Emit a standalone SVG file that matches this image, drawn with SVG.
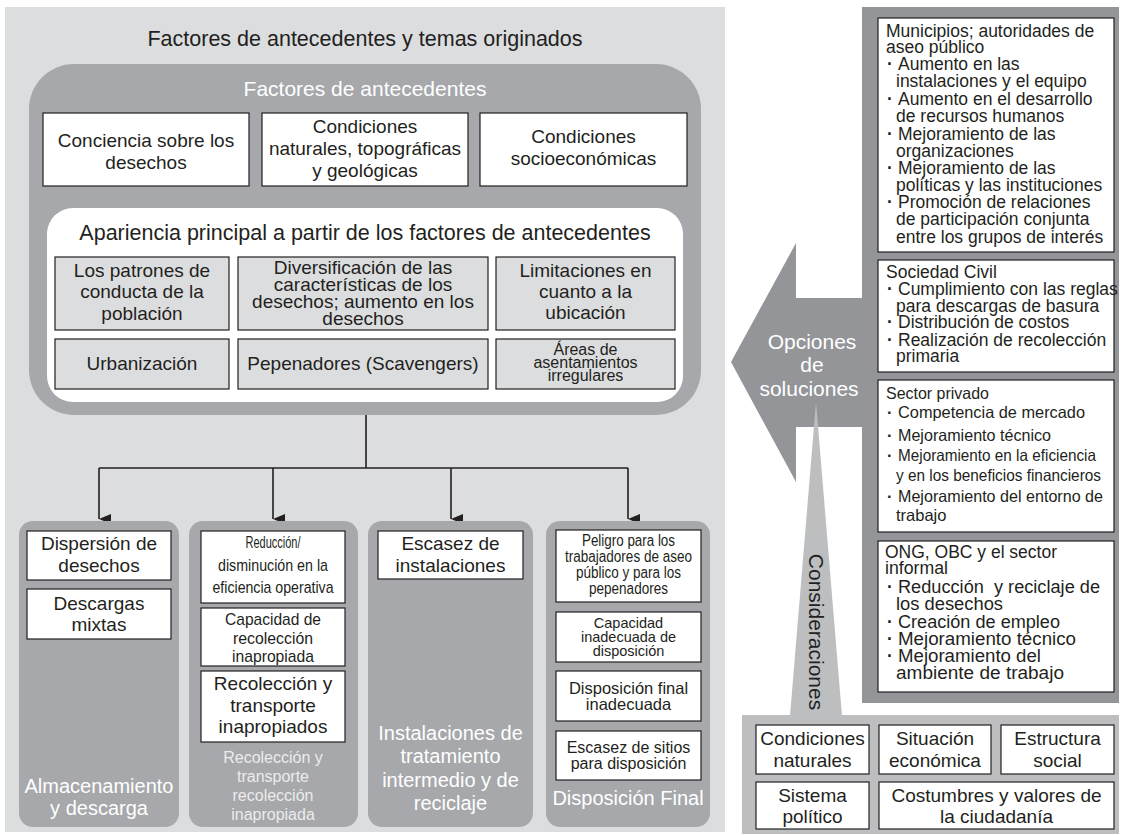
<svg xmlns="http://www.w3.org/2000/svg" width="1123" height="835" viewBox="0 0 1123 835">
  <style>
    text { font-family: "Liberation Sans", Arial, sans-serif; fill: #231f20; }
    .c { text-anchor: middle; }
    .w { fill: #ffffff; }
    .lw { fill: #ececec; }
    .f19 { font-size: 19px; }
    .f20 { font-size: 20px; }
    .f21 { font-size: 21px; }
    .box { fill: #ffffff; stroke: #231f20; stroke-width: 1.2; }
    .gbox { fill: #dcdddf; stroke: #231f20; stroke-width: 1.2; }
    .col { fill: #a6a8ab; }
    .bul { font-weight: bold; }
    .conn { stroke: #231f20; stroke-width: 1.6; fill: none; }
  </style>
  <defs>
    <marker id="arr" viewBox="0 0 10 12" refX="5" refY="12" markerWidth="10" markerHeight="12" markerUnits="userSpaceOnUse" orient="auto-start-reverse">
      <path d="M0,0 L10,0 L5,12 Z" fill="#231f20"/>
    </marker>
  </defs>

  <rect width="1123" height="835" fill="#ffffff"/>

  <!-- left panel: background factors and resulting issues -->
  <g id="panel-left">
    <rect x="5" y="7" width="720" height="825" fill="#dcdddf"/>
    <text class="c" x="365" y="46" font-size="21.5">Factores de antecedentes y temas originados</text>
  </g>

  <g id="factores">
    <rect x="29" y="64" width="672" height="351" rx="45" ry="45" fill="#a6a8ab"/>
    <text class="c w f21" x="365" y="96">Factores de antecedentes</text>
  </g>

  <g id="conciencia">
    <rect class="box" x="43" y="113" width="206" height="73"/>
    <text class="c f19" x="146" y="147">Conciencia sobre los</text>
    <text class="c f19" x="146" y="169">desechos</text>
  </g>
  <g id="condiciones-naturales">
    <rect class="box" x="262" y="113" width="206" height="73"/>
    <text class="c f19" x="365" y="133">Condiciones</text>
    <text class="c f19" x="365" y="155">naturales, topográficas</text>
    <text class="c f19" x="365" y="177">y geológicas</text>
  </g>
  <g id="condiciones-socio">
    <rect class="box" x="480" y="113" width="207" height="73"/>
    <text class="c f19" x="583.5" y="143">Condiciones</text>
    <text class="c f19" x="583.5" y="165">socioeconómicas</text>
  </g>

  <g id="apariencia">
    <rect x="47" y="208" width="636" height="194" rx="26" ry="26" fill="#ffffff"/>
    <text class="c" x="365" y="240" font-size="21.5">Apariencia principal a partir de los factores de antecedentes</text>
  </g>

  <g id="patrones">
    <rect class="gbox" x="55" y="257" width="174" height="73"/>
    <text class="c f19" x="142" y="277">Los patrones de</text>
    <text class="c f19" x="142" y="298">conducta de la</text>
    <text class="c f19" x="142" y="320">población</text>
  </g>
  <g id="diversificacion">
    <rect class="gbox" x="238" y="257" width="250" height="73"/>
    <text class="c f19" x="363" y="274">Diversificación de las</text>
    <text class="c f19" x="363" y="291">características de los</text>
    <text class="c f19" x="363" y="308">desechos; aumento en los</text>
    <text class="c f19" x="363" y="325">desechos</text>
  </g>
  <g id="limitaciones">
    <rect class="gbox" x="496" y="257" width="179" height="73"/>
    <text class="c f19" x="585.5" y="277">Limitaciones en</text>
    <text class="c f19" x="585.5" y="298">cuanto a la</text>
    <text class="c f19" x="585.5" y="319">ubicación</text>
  </g>
  <g id="urbanizacion">
    <rect class="gbox" x="55" y="339" width="174" height="50"/>
    <text class="c f19" x="142" y="370">Urbanización</text>
  </g>
  <g id="pepenadores">
    <rect class="gbox" x="238" y="339" width="250" height="50"/>
    <text class="c f19" x="363" y="370">Pepenadores (Scavengers)</text>
  </g>
  <g id="asentamientos">
    <rect class="gbox" x="496" y="339" width="179" height="50"/>
    <text class="c" x="585.5" y="355" font-size="16">Áreas de</text>
    <text class="c" x="585.5" y="368" font-size="16">asentamientos</text>
    <text class="c" x="585.5" y="381" font-size="16">irregulares</text>
  </g>

  <!-- connectors -->
  <g id="connectors">
    <path class="conn" d="M366,415 V468 M99,468 H628"/>
    <path class="conn" d="M99,468 V519" marker-end="url(#arr)"/>
    <path class="conn" d="M273,468 V519" marker-end="url(#arr)"/>
    <path class="conn" d="M451,468 V519" marker-end="url(#arr)"/>
    <path class="conn" d="M628,468 V519" marker-end="url(#arr)"/>
  </g>

  <!-- column 1 -->
  <g id="almacenamiento">
    <rect class="col" x="19" y="521" width="160" height="306" rx="14" ry="14"/>
    <text class="c w f20" x="99" y="793">Almacenamiento</text>
    <text class="c w f20" x="99" y="815">y descarga</text>
  </g>
  <g id="dispersion">
    <rect class="box" x="27" y="531" width="144" height="49"/>
    <text class="c f19" x="99" y="550">Dispersión de</text>
    <text class="c f19" x="99" y="572">desechos</text>
  </g>
  <g id="descargas">
    <rect class="box" x="27" y="589" width="144" height="50"/>
    <text class="c f19" x="99" y="610">Descargas</text>
    <text class="c f19" x="99" y="631">mixtas</text>
  </g>

  <!-- column 2 -->
  <g id="recoleccion">
    <rect class="col" x="189" y="521" width="169" height="306" rx="14" ry="14"/>
    <text class="c lw" x="273" y="763" font-size="16">Recolección y</text>
    <text class="c lw" x="273" y="782" font-size="16">transporte</text>
    <text class="c lw" x="273" y="801" font-size="16">recolección</text>
    <text class="c lw" x="273" y="820" font-size="16">inapropiada</text>
  </g>
  <g id="reduccion">
    <rect class="box" x="201" y="531" width="144" height="72"/>
    <text class="c" x="273" y="548" font-size="17" textLength="55" lengthAdjust="spacingAndGlyphs">Reducción/</text>
    <text class="c" x="273" y="571" font-size="17" textLength="110" lengthAdjust="spacingAndGlyphs">disminución en la</text>
    <text class="c" x="273" y="593" font-size="17" textLength="121" lengthAdjust="spacingAndGlyphs">eficiencia operativa</text>
  </g>
  <g id="capacidad-recoleccion">
    <rect class="box" x="201" y="608" width="144" height="58"/>
    <text class="c" x="273" y="625" font-size="17" textLength="96" lengthAdjust="spacingAndGlyphs">Capacidad de</text>
    <text class="c" x="273" y="644" font-size="17" textLength="80" lengthAdjust="spacingAndGlyphs">recolección</text>
    <text class="c" x="273" y="662" font-size="17" textLength="82" lengthAdjust="spacingAndGlyphs">inapropiada</text>
  </g>
  <g id="transporte">
    <rect class="box" x="201" y="671" width="144" height="71"/>
    <text class="c f19" x="273" y="690">Recolección y</text>
    <text class="c f19" x="273" y="712">transporte</text>
    <text class="c f19" x="273" y="733">inapropiados</text>
  </g>

  <!-- column 3 -->
  <g id="instalaciones">
    <rect class="col" x="368" y="521" width="165" height="306" rx="14" ry="14"/>
    <text class="c w f20" x="450.5" y="740">Instalaciones de</text>
    <text class="c w f20" x="450.5" y="763">tratamiento</text>
    <text class="c w f20" x="450.5" y="787">intermedio y de</text>
    <text class="c w f20" x="450.5" y="810">reciclaje</text>
  </g>
  <g id="escasez-instalaciones">
    <rect class="box" x="378" y="531" width="145" height="48"/>
    <text class="c f19" x="450.5" y="550">Escasez de</text>
    <text class="c f19" x="450.5" y="572">instalaciones</text>
  </g>

  <!-- column 4 -->
  <g id="disposicion">
    <rect class="col" x="546" y="521" width="164" height="306" rx="14" ry="14"/>
    <text class="c w f20" x="628" y="805">Disposición Final</text>
  </g>
  <g id="peligro">
    <rect class="box" x="556" y="530" width="145" height="72"/>
    <text class="c" x="628.5" y="546" font-size="16" textLength="93" lengthAdjust="spacingAndGlyphs">Peligro para los</text>
    <text class="c" x="628.5" y="562" font-size="16" textLength="127" lengthAdjust="spacingAndGlyphs">trabajadores de aseo</text>
    <text class="c" x="628.5" y="578" font-size="16" textLength="105" lengthAdjust="spacingAndGlyphs">público y para los</text>
    <text class="c" x="628.5" y="594" font-size="16" textLength="79" lengthAdjust="spacingAndGlyphs">pepenadores</text>
  </g>
  <g id="capacidad-disposicion">
    <rect class="box" x="556" y="612" width="145" height="50"/>
    <text class="c" x="628.5" y="628" font-size="14.5">Capacidad</text>
    <text class="c" x="628.5" y="642" font-size="14.5">inadecuada de</text>
    <text class="c" x="628.5" y="656" font-size="14.5">disposición</text>
  </g>
  <g id="disposicion-inadecuada">
    <rect class="box" x="556" y="671" width="145" height="50"/>
    <text class="c" x="628.5" y="694" font-size="16.5">Disposición final</text>
    <text class="c" x="628.5" y="710" font-size="16.5">inadecuada</text>
  </g>
  <g id="escasez-sitios">
    <rect class="box" x="556" y="731" width="145" height="49"/>
    <text class="c" x="628.5" y="753" font-size="16">Escasez de sitios</text>
    <text class="c" x="628.5" y="769" font-size="16">para disposición</text>
  </g>

  <!-- right side: solution options arrow and actors -->
  <g id="opciones">
    <path d="M862,7 H1119 V703 H862 V427 H796 V482 L731,362 L796,243 V298 H862 Z" fill="#939598"/>
    <text class="c w f21" x="812" y="349">Opciones</text>
    <text class="c w f21" x="812" y="372">de</text>
    <text class="c w f21" x="809" y="396">soluciones</text>
  </g>

  <g id="municipios" font-size="17.5">
    <rect class="box" x="878" y="18" width="236" height="234"/>
    <text x="886" y="37">Municipios; autoridades de</text>
    <text x="886" y="53">aseo público</text>
    <text y="70"><tspan x="887" class="bul">·</tspan><tspan x="898">Aumento en las</tspan></text>
    <text x="896" y="87">instalaciones y el equipo</text>
    <text y="105"><tspan x="887" class="bul">·</tspan><tspan x="898">Aumento en el desarrollo</tspan></text>
    <text x="896" y="122">de recursos humanos</text>
    <text y="140"><tspan x="887" class="bul">·</tspan><tspan x="898">Mejoramiento de las</tspan></text>
    <text x="896" y="157">organizaciones</text>
    <text y="174"><tspan x="887" class="bul">·</tspan><tspan x="898">Mejoramiento de las</tspan></text>
    <text x="896" y="191">políticas y las instituciones</text>
    <text y="208"><tspan x="887" class="bul">·</tspan><tspan x="898">Promoción de relaciones</tspan></text>
    <text x="896" y="225">de participación conjunta</text>
    <text x="896" y="243">entre los grupos de interés</text>
  </g>

  <g id="sociedad-civil" font-size="17.5">
    <rect class="box" x="878" y="260" width="236" height="112"/>
    <text x="886" y="278">Sociedad Civil</text>
    <text y="295"><tspan x="887" class="bul">·</tspan><tspan x="898">Cumplimiento con las reglas</tspan></text>
    <text x="896" y="312">para descargas de basura</text>
    <text y="328"><tspan x="887" class="bul">·</tspan><tspan x="898">Distribución de costos</tspan></text>
    <text y="346"><tspan x="887" class="bul">·</tspan><tspan x="898">Realización de recolección</tspan></text>
    <text x="896" y="362">primaria</text>
  </g>

  <g id="sector-privado" font-size="16.5">
    <rect class="box" x="878" y="380" width="236" height="152"/>
    <text x="886" y="399" textLength="103" lengthAdjust="spacingAndGlyphs">Sector privado</text>
    <text y="418"><tspan x="887" class="bul">·</tspan><tspan x="898" textLength="187" lengthAdjust="spacingAndGlyphs">Competencia de mercado</tspan></text>
    <text y="441"><tspan x="887" class="bul">·</tspan><tspan x="898" textLength="153" lengthAdjust="spacingAndGlyphs">Mejoramiento técnico</tspan></text>
    <text y="461"><tspan x="887" class="bul">·</tspan><tspan x="898" textLength="198" lengthAdjust="spacingAndGlyphs">Mejoramiento en la eficiencia</tspan></text>
    <text x="896" y="481" textLength="205" lengthAdjust="spacingAndGlyphs">y en los beneficios financieros</text>
    <text y="502"><tspan x="887" class="bul">·</tspan><tspan x="898" textLength="205" lengthAdjust="spacingAndGlyphs">Mejoramiento del entorno de</tspan></text>
    <text x="896" y="521">trabajo</text>
  </g>

  <g id="ong" font-size="17.5">
    <rect class="box" x="878" y="541" width="236" height="151"/>
    <text x="885" y="558" textLength="172" lengthAdjust="spacingAndGlyphs">ONG, OBC y el sector</text>
    <text x="885" y="574" textLength="63" lengthAdjust="spacingAndGlyphs">informal</text>
    <text y="593"><tspan x="887" class="bul">·</tspan><tspan x="898" textLength="202" lengthAdjust="spacingAndGlyphs">Reducción&#160; y reciclaje de</tspan></text>
    <text x="896" y="610" textLength="107" lengthAdjust="spacingAndGlyphs">los desechos</text>
    <text y="628"><tspan x="887" class="bul">·</tspan><tspan x="898" textLength="162" lengthAdjust="spacingAndGlyphs">Creación de empleo</tspan></text>
    <text y="645"><tspan x="887" class="bul">·</tspan><tspan x="898" textLength="178" lengthAdjust="spacingAndGlyphs">Mejoramiento técnico</tspan></text>
    <text y="662"><tspan x="887" class="bul">·</tspan><tspan x="898" textLength="143" lengthAdjust="spacingAndGlyphs">Mejoramiento del</tspan></text>
    <text x="896" y="679" textLength="168" lengthAdjust="spacingAndGlyphs">ambiente de trabajo</text>
  </g>

  <!-- considerations panel -->
  <g id="consideraciones">
    <rect x="742" y="715" width="377" height="119" fill="#bcbec0"/>
    <polygon points="790,716 842,716 816,402" fill="#bcbec0"/>
    <text class="c" transform="translate(816,632) rotate(90)" y="7" font-size="21" fill="#333333">Consideraciones</text>
  </g>

  <g id="condiciones-nat">
    <rect class="box" x="756" y="725" width="113" height="49"/>
    <text class="c f19" x="812.5" y="745">Condiciones</text>
    <text class="c f19" x="812.5" y="767">naturales</text>
  </g>
  <g id="situacion">
    <rect class="box" x="879" y="725" width="112" height="49"/>
    <text class="c f19" x="935" y="745">Situación</text>
    <text class="c f19" x="935" y="767">económica</text>
  </g>
  <g id="estructura">
    <rect class="box" x="1001" y="725" width="113" height="49"/>
    <text class="c f19" x="1057.5" y="745">Estructura</text>
    <text class="c f19" x="1057.5" y="767">social</text>
  </g>
  <g id="sistema">
    <rect class="box" x="756" y="782" width="113" height="47"/>
    <text class="c f19" x="812.5" y="802">Sistema</text>
    <text class="c f19" x="812.5" y="823">político</text>
  </g>
  <g id="costumbres">
    <rect class="box" x="879" y="782" width="235" height="47"/>
    <text class="c f19" x="996.5" y="802">Costumbres y valores de</text>
    <text class="c f19" x="996.5" y="823">la ciudadanía</text>
  </g>
</svg>
